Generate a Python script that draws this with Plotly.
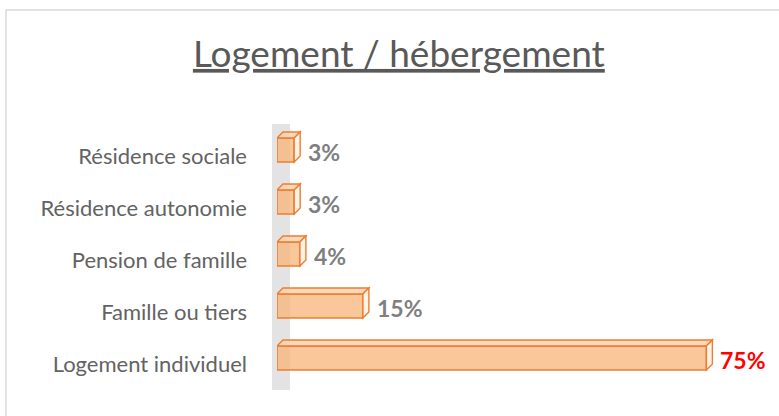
import plotly.graph_objects as go

categories = ["Logement individuel", "Famille ou tiers", "Pension de famille",
              "Résidence autonomie", "Résidence sociale"]
values = [75, 15, 4, 3, 3]
value_labels = ["75%", "15%", "4%", "3%", "3%"]
label_colors = ["#FF0000", "#7F7F7F", "#7F7F7F", "#7F7F7F", "#7F7F7F"]

W, H = 779, 416
ML, MR, MT, MB = 277, 44, 124, 32
XMAX = 80
plot_w = W - ML - MR
plot_h = H - MT - MB
px_x = plot_w / XMAX
px_y = plot_h / len(categories)

BAR_W = 0.46
DEPTH_PX = 6
dx = DEPTH_PX / px_x
dy = DEPTH_PX / px_y

ORANGE = "#ED7D31"
FILL = "rgba(248,180,120,0.75)"
FONT = "Lato"

fig = go.Figure()
fig.add_trace(go.Bar(
    x=values, y=list(range(len(categories))), orientation="h",
    width=BAR_W,
    marker=dict(color=FILL, line=dict(color=ORANGE, width=1.6)),
    hoverinfo="skip", showlegend=False,
))

shapes = []
# 3D wall behind bars (paper coords so it is not clipped)
shapes.append(dict(type="rect", xref="paper", yref="paper",
                   x0=-5 / plot_w, x1=13 / plot_w, y0=-6 / plot_h, y1=1.0,
                   fillcolor="#E3E3E3", line=dict(width=0), layer="below"))
for i, v in enumerate(values):
    top = i + BAR_W / 2
    bot = i - BAR_W / 2
    shapes.append(dict(type="path", xref="x", yref="y",
                       path=f"M 0,{top} L {v},{top} L {v+dx},{top+dy} L {dx},{top+dy} Z",
                       fillcolor="rgba(251,210,175,0.85)", line=dict(color=ORANGE, width=1.4)))
    shapes.append(dict(type="path", xref="x", yref="y",
                       path=f"M {v},{bot} L {v},{top} L {v+dx},{top+dy} L {v+dx},{bot+dy} Z",
                       fillcolor="rgba(255,242,230,0.9)", line=dict(color=ORANGE, width=1.4)))

# outer chart border
shapes.append(dict(type="rect", xref="paper", yref="paper",
                   x0=(6 - ML) / plot_w, x1=2.0, y0=-1.0, y1=(H - MB - 10) / plot_h,
                   line=dict(color="#D9D9D9", width=1.5), fillcolor="rgba(0,0,0,0)", layer="below"))

annotations = []
for i, (v, t, c) in enumerate(zip(values, value_labels, label_colors)):
    annotations.append(dict(x=v, y=i, xref="x", yref="y", text=f"<b>{t}</b>",
                            showarrow=False, xanchor="left", yanchor="middle",
                            xshift=12, yshift=-2,
                            font=dict(family=FONT, size=23, color=c)))

fig.update_layout(
    width=W, height=H,
    margin=dict(l=ML, r=MR, t=MT, b=MB, autoexpand=False),
    paper_bgcolor="white", plot_bgcolor="rgba(0,0,0,0)",
    title=dict(text="<u>Logement / hébergement</u>", x=0.512, xanchor="center",
               y=1 - 54 / H, yanchor="middle",
               font=dict(family=FONT, size=37, color="#595959")),
    xaxis=dict(range=[0, XMAX], visible=False, fixedrange=True, automargin=False),
    yaxis=dict(range=[-0.5, len(categories) - 0.5], tickmode="array",
               tickvals=list(range(len(categories))), ticktext=categories,
               showgrid=False, zeroline=False, showline=False, ticks="",
               automargin=False, ticklabelstandoff=29, ticklabelshift=6,
               fixedrange=True,
               tickfont=dict(family=FONT, size=22, color="#636363")),
    shapes=shapes, annotations=annotations,
)

fig.write_html("out.html", config={"displayModeBar": False},
               post_script="document.body.style.margin='0';")
